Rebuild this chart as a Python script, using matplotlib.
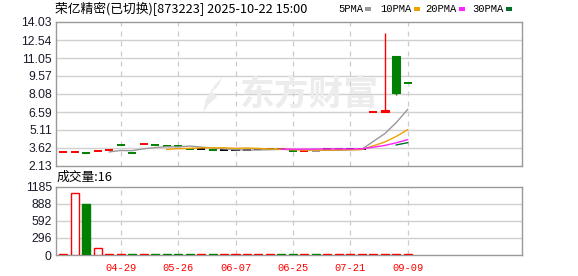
import matplotlib
matplotlib.use("Agg")
import matplotlib.pyplot as plt
import numpy as np
import pandas as pd
from matplotlib.patches import Rectangle, Polygon

# ---------------- data ----------------
title = "荣亿精密(已切换)[873223] 2025-10-22 15:00"
opens  = [3.26,3.26,3.18,3.34,3.43,3.86,3.18,3.95,3.86,3.76,3.76,3.57,3.53,3.43,3.43,3.43,3.43,3.55,3.55,3.55,3.34,3.34,3.34,3.55,3.55,3.55,3.55,6.59,6.59,11.22,8.99]
closes = [3.26,3.26,3.18,3.34,3.43,3.86,3.18,3.95,3.86,3.76,3.76,3.57,3.53,3.43,3.43,3.43,3.43,3.55,3.55,3.55,3.34,3.34,3.34,3.55,3.55,3.55,3.55,6.59,6.76,8.13,8.99]
highs  = [3.26,3.26,3.18,3.34,3.43,3.86,3.18,3.95,3.86,3.76,3.76,3.57,3.53,3.43,3.43,3.43,3.43,3.55,3.55,3.55,3.34,3.34,3.34,3.55,3.55,3.55,3.55,6.59,13.09,11.22,8.99]
lows   = [3.26,3.26,3.18,3.34,3.43,3.86,3.18,3.95,3.86,3.76,3.76,3.57,3.53,3.43,3.43,3.43,3.43,3.55,3.55,3.55,3.34,3.34,3.34,3.55,3.55,3.55,3.55,6.59,6.59,8.02,8.99]
candle_colors = ['r','r','g','r','r','g','g','r','g','g','g','g','k','g','k','k','k','k','k','k',
                 'g','r','gray','k','k','k','k','r','r','g','g']
volumes = [15,1070,880,113,18,16,17,18,16,17,16,15,17,15,16,18,17,16,15,17,16,18,17,16,15,17,18,19,20,18,16]
volume_colors = ['r','r','g','r','r','r','g','r','g','g','g','g','r','g','r','r','r','r','r','g',
                 'g','r','g','r','r','r','r','r','r','r','r']
price_ticks = [2.13, 3.62, 5.11, 6.59, 8.08, 9.57, 11.05, 12.54, 14.03]
price_tick_labels = ["2.13", "3.62", "5.11", "6.59", "8.08", "9.57", "11.05", "12.54", "14.03"]
volume_ticks = [0, 296, 592, 888, 1185]
volume_tick_labels = ["0", "296", "592", "888", "1185"]
date_tick_idx = [5, 10, 15, 20, 25, 30]
date_tick_labels = ["04-29", "05-26", "06-07", "06-25", "07-21", "09-09"]
ma_periods = [5, 10, 20, 30]
ma_names = ["5PMA", "10PMA", "20PMA", "30PMA"]
ma_colors = ["#999999", "#f0a000", "#ff22ff", "#006f2e"]
last_volume = 16

# ---------------- style ----------------
RED = "#ff0000"
GREEN = "#008000"
cmap = {'r': RED, 'g': GREEN, 'k': '#000000', 'gray': '#999999'}
W, H = 578, 276
fig = plt.figure(figsize=(W / 100, H / 100), dpi=100)
fig.patch.set_facecolor("white")

def fx(px):
    return px / W

def fy(py):
    return 1 - py / H

ax = fig.add_axes([fx(56), fy(166), fx(522) - fx(56), fy(22) - fy(166)])
axv = fig.add_axes([fx(56), fy(255), fx(522) - fx(56), fy(186.7) - fy(255)])

n = len(closes)
x = np.arange(n)
xlim = (-0.64, 39.96)
grid_c = "#d0d0d0"
spine_c = "#999999"
tick_font = dict(family="Liberation Sans", size=8.7, color="#1a1a2a")

for a in (ax, axv):
    a.set_xlim(*xlim)
    for s in a.spines.values():
        s.set_color(spine_c)
        s.set_linewidth(1)
    a.tick_params(length=0, pad=3)
    a.set_xticks([])
    for xi in date_tick_idx:
        a.axvline(xi, color="#cccccc", lw=0.9, ls=(0, (4, 4)), zorder=1)

# watermark
fig.text(fx(309), fy(94), "东方财富", family="Noto Sans CJK SC", fontweight="bold",
         fontsize=25, color="#ececec", ha="center", va="center", zorder=0)
logo = Polygon([[fx(222), fy(77)], [fx(214), fy(86)], [fx(206), fy(99)], [fx(203), fy(113)],
                [fx(209), fy(104)], [fx(217), fy(97)], [fx(212), fy(92)], [fx(219), fy(85)]],
               closed=True, transform=fig.transFigure, facecolor="#ececec", edgecolor="none", zorder=0)
fig.patches.append(logo)
ax.set_facecolor("none")

# price axis
ax.set_ylim(price_ticks[0], price_ticks[-1])
ax.set_yticks(price_ticks)
ax.set_yticklabels(price_tick_labels, **tick_font)
for t in price_ticks[1:-1]:
    ax.axhline(t, color=grid_c, lw=1, zorder=1)

w = 0.7
for i in range(n):
    c = cmap[candle_colors[i]]
    o, cl, hi, lo = opens[i], closes[i], highs[i], lows[i]
    if hi > max(o, cl) or lo < min(o, cl):
        ax.vlines(i, lo, hi, color=c, lw=1, zorder=3)
    if o == cl:
        ax.hlines(o, i - w / 2, i + w / 2, color=c, lw=1.4, zorder=3)
    else:
        ax.add_patch(Rectangle((i - w / 2, min(o, cl)), w, abs(cl - o), facecolor=c,
                               edgecolor=c, lw=0.8, zorder=3))

close_s = pd.Series(closes)
for p, col in zip(ma_periods, ma_colors):
    ma = close_s.rolling(p).mean()
    ax.plot(x, ma, color=col, lw=1, zorder=4)

# volume axis
axv.set_ylim(volume_ticks[0], volume_ticks[-1])
axv.set_yticks(volume_ticks)
axv.set_yticklabels(volume_tick_labels, **tick_font)
for t in volume_ticks[1:-1]:
    axv.axhline(t, color=grid_c, lw=1, zorder=1)
for i in range(n):
    if volume_colors[i] == 'r':
        axv.add_patch(Rectangle((i - w / 2, 0), w, volumes[i], facecolor="white",
                                edgecolor=RED, lw=1, zorder=3))
    else:
        axv.add_patch(Rectangle((i - w / 2, 0), w, volumes[i], facecolor=GREEN,
                                edgecolor=GREEN, lw=1, zorder=3))
axv.set_xticks(date_tick_idx)
axv.set_xticklabels(date_tick_labels, family="Liberation Mono", size=7.5, color=RED)
axv.tick_params(axis="x", pad=6)

# texts
fig.text(fx(55), fy(9), title, family=["Noto Sans CJK SC", "DejaVu Sans"], fontsize=9.2,
         color="#000000", ha="left", va="center")
leg_x = [338, 380, 425, 472]
for lx, name, col in zip(leg_x, ma_names, ma_colors):
    t = fig.text(fx(lx), fy(9), name, family="Liberation Mono", fontsize=7.6,
                 color="#000000", ha="left", va="center")
    tw = len(name) * 6.1
    fig.patches.append(Rectangle((fx(lx + tw + 3), fy(11)), fx(6), 4 / H,
                                 transform=fig.transFigure, facecolor=col, edgecolor="none"))
fig.text(fx(57), fy(177), "成交量:%d" % last_volume, family=["Noto Sans CJK SC", "DejaVu Sans"],
         fontsize=9.2, color="#000000", ha="left", va="center")

fig.savefig("out.png", dpi=100, facecolor="white")
